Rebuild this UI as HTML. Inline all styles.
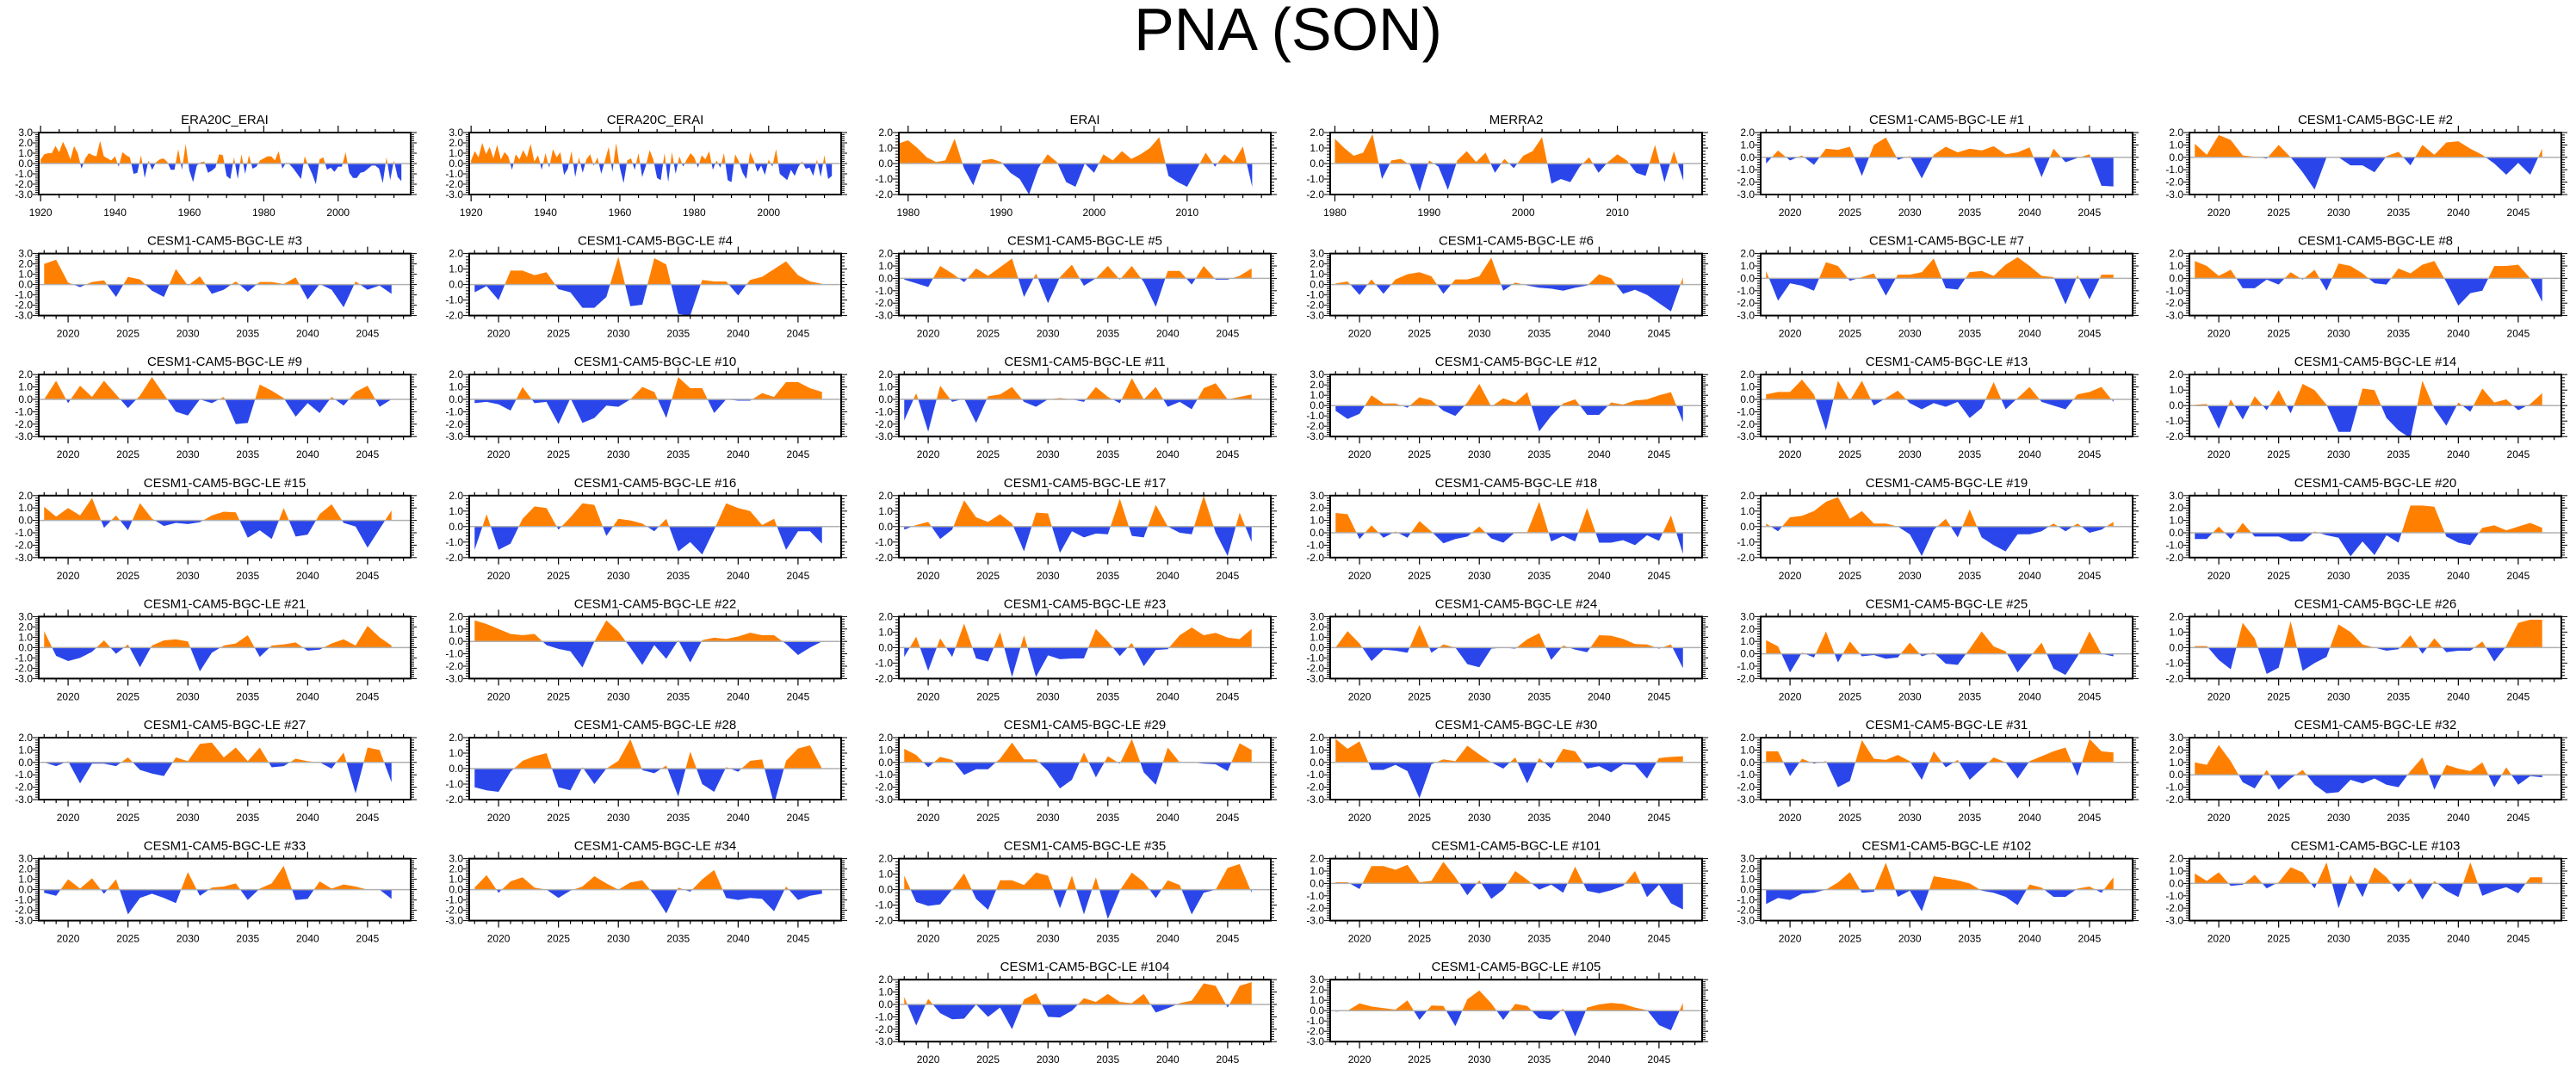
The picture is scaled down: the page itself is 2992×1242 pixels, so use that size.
<!DOCTYPE html>
<html><head><meta charset="utf-8"><style>
html,body{margin:0;padding:0;background:#fff;}
svg{display:block;font-family:"Liberation Sans",sans-serif;}
</style></head><body>
<svg id="chart" width="2992" height="1242" viewBox="0 0 2992 1242" xmlns="http://www.w3.org/2000/svg">
<rect width="2992" height="1242" fill="#fff"/>
<text x="1496" y="58" font-size="70" text-anchor="middle">PNA (SON)</text>
<g id="panels"></g>
</svg>
<script>
const cesmYears = [2018,2019,2020,2021,2022,2023,2024,2025,2026,2027,2028,2029,2030,2031,2032,2033,2034,2035,2036,2037,2038,2039,2040,2041,2042,2043,2044,2045,2046,2047];
const era20cStart = 1920;
const eraiStart = 1979;
const merra2Start = 1980;
const s_ERA20C = [0.4,0.9,1.0,1.0,1.7,1.1,2.1,1.4,0.4,1.7,1.0,-0.5,0.5,1.0,0.8,0.7,2.2,0.7,0.5,0.3,0.7,-0.3,1.1,0.8,0.6,-1.0,-0.9,0.8,-1.4,0.3,-0.6,0.1,0.4,0.5,0.2,-0.6,-0.6,1.4,-0.6,1.9,-0.7,-1.8,-0.2,0.1,0.2,-0.9,-0.7,-0.4,0.9,0.8,-1.2,-1.5,0.6,-1.5,0.9,-1.0,0.8,-0.5,-0.3,0.3,0.5,0.7,0.7,0.3,1.2,-0.5,0.1,-0.1,-0.5,-1.0,-1.5,0.7,-0.2,-1.0,-2.0,0.4,0.6,-0.6,-0.4,-0.8,-0.3,-0.3,1.1,-0.9,-1.4,-1.4,-0.9,-0.8,-0.5,-0.2,-0.2,-0.5,-1.9,0.6,-1.6,0.3,-1.3,-1.7];
const s_CERA20C = [0.3,1.2,0.6,2.0,0.9,1.6,0.5,1.8,0.4,1.1,0.7,-0.6,0.9,0.4,1.3,0.6,1.9,0.2,0.8,-0.6,1.0,-0.4,1.4,0.6,1.1,-1.1,-0.5,1.2,-1.3,0.6,-0.9,0.4,0.9,-0.2,0.6,-1.0,0.3,1.6,-0.8,2.0,-0.4,-1.9,0.3,0.5,-0.6,1.0,-1.3,-0.2,1.3,0.4,-1.4,-1.6,1.0,-1.8,1.1,-1.0,0.7,-0.3,0.4,1.0,0.6,-0.4,0.8,0.4,1.2,-0.6,0.3,-0.4,1.0,-1.6,-1.8,0.9,0.2,-0.9,-1.5,1.1,0.3,-0.8,-0.2,-1.1,0.4,-0.3,1.4,-1.0,-1.3,-1.6,-0.6,-1.2,-0.3,0.2,-0.5,-0.4,-1.2,0.4,-1.3,0.8,-1.5,-1.2];
const s_ERAI = [1.3,1.5,1.0,0.4,0.1,0.2,1.6,-0.3,-1.4,0.2,0.3,0.1,-0.6,-1.0,-2.0,-0.3,0.6,0.1,-1.2,-1.5,0.0,-0.6,0.6,0.2,0.8,0.3,0.6,1.0,1.7,-0.8,-1.2,-1.5,-0.4,0.7,-0.2,0.6,0.1,1.1,-1.5];
const s_MERRA2 = [1.6,1.0,0.5,0.7,1.9,-1.0,0.2,0.3,-0.1,-1.8,0.2,-0.2,-1.7,0.2,0.8,0.1,0.7,-0.6,0.3,-0.3,0.5,0.8,1.7,-1.3,-1.0,-1.2,-0.2,0.4,-0.6,0.1,0.6,0.2,-0.6,-0.8,1.2,-1.2,0.8,-1.1];
const s_1 = [-0.5,0.55,-0.25,0.15,-0.6,0.7,0.6,0.85,-1.5,1.0,1.6,-0.2,0.1,-1.7,0.2,0.85,0.4,0.7,0.55,0.9,0.25,0.4,0.8,-1.6,0.7,-0.4,-0.05,0.25,-2.3,-2.35];
const s_2 = [1.1,0.2,1.8,1.4,0.15,0.05,-0.1,1.0,0.0,-1.2,-2.6,0.0,0.0,-0.65,-0.65,-1.2,0.1,0.45,-0.65,1.0,0.2,1.2,1.3,0.7,0.2,-0.5,-1.4,-0.45,-1.4,0.7];
const s_3 = [2.0,2.4,0.2,-0.25,0.25,0.4,-1.2,0.75,0.5,-0.6,-1.2,1.5,-0.1,0.8,-0.9,-0.5,0.3,-0.7,0.25,0.25,0.05,0.7,-1.45,0.05,-0.5,-2.2,0.3,-0.5,-0.1,-0.9];
const s_4 = [-0.5,-0.1,-1.0,0.9,0.9,0.6,0.8,-0.3,-0.5,-1.5,-1.5,-0.8,1.8,-1.4,-1.3,1.7,1.3,-1.9,-2.0,0.3,0.2,0.2,-0.7,0.3,0.5,1.0,1.5,0.6,0.2,0.05];
const s_5 = [-0.1,-0.4,-0.7,1.0,0.4,-0.3,0.8,0.2,0.9,1.6,-1.5,0.4,-2.0,0.1,1.1,-0.6,0.0,1.0,-0.1,1.0,-0.3,-2.3,0.6,0.6,-0.5,1.0,-0.1,-0.1,0.2,0.8];
const s_6 = [0.1,0.3,-1.0,0.5,-0.9,0.5,1.0,1.2,0.8,-0.9,0.5,0.5,0.8,2.6,-0.6,0.2,-0.1,-0.3,-0.4,-0.6,-0.3,-0.1,1.0,0.6,-0.9,-0.5,-1.0,-1.8,-2.6,0.7];
const s_7 = [0.6,-1.8,-0.4,-0.6,-1.0,1.3,1.0,-0.2,0.1,0.4,-1.4,0.3,0.3,0.5,1.6,-0.8,-0.9,0.5,0.6,0.2,1.1,1.7,1.0,0.2,0.1,-2.1,0.25,-1.7,0.3,0.3];
const s_8 = [1.4,1.0,0.2,0.7,-0.8,-0.8,-0.1,-0.5,0.5,-0.1,0.7,-1.0,1.2,1.0,0.4,-0.4,-0.5,0.8,0.4,1.1,1.4,-0.3,-2.2,-1.2,-1.0,1.0,1.0,1.1,0.0,-1.9];
const s_9 = [0.0,1.5,-0.3,1.1,0.2,1.5,0.4,-0.7,0.3,1.8,0.4,-1.0,-1.3,0.0,-0.3,0.2,-2.0,-1.9,1.2,0.7,0.1,-1.4,-0.3,-1.1,0.2,-0.5,0.6,1.1,-0.6,0.0];
const s_10 = [-0.3,-0.2,-0.4,-0.9,1.0,-0.3,-0.2,-2.0,0.1,-1.9,-1.5,-0.5,-0.6,0.0,1.0,0.6,-1.5,1.8,0.9,0.9,-1.1,0.0,-0.1,-0.1,0.5,0.2,1.4,1.4,0.9,0.6];
const s_11 = [-1.7,0.5,-2.6,1.1,-0.2,0.05,-1.9,0.25,0.4,1.0,-0.2,-0.6,0.0,0.1,0.0,-0.2,1.0,0.2,-0.3,1.7,0.0,1.0,-0.6,-0.2,-0.8,0.9,1.3,0.0,0.2,0.4];
const s_12 = [-0.5,-1.3,-0.8,1.0,0.2,0.2,-0.2,0.8,0.5,-0.5,-1.0,0.3,2.1,-0.1,0.7,0.3,1.3,-2.5,-1.0,0.2,0.6,-0.9,-0.9,0.3,0.1,0.5,0.6,1.0,1.3,-1.6];
const s_13 = [0.4,0.6,0.6,1.6,0.4,-2.5,1.5,-0.1,1.5,-0.5,0.1,0.7,-0.3,-0.8,-0.3,-0.6,-0.2,-1.5,-0.7,1.4,-0.8,0.1,1.0,-0.2,-0.5,-0.8,0.4,0.6,1.0,-0.2];
const s_14 = [0.05,0.1,-1.5,0.4,-0.9,0.6,-0.3,1.0,-0.5,1.4,1.0,0.05,-1.7,-1.7,1.1,1.0,-0.8,-1.6,-2.1,1.6,-0.2,-1.3,0.2,-0.4,1.1,0.2,0.4,-0.3,0.1,0.8];
const s_15 = [1.1,0.3,1.0,0.4,1.8,-0.6,0.4,-0.8,1.4,0.15,-0.45,-0.2,-0.3,-0.15,0.4,0.7,0.65,-1.4,-0.8,-1.5,1.0,-1.3,-1.15,0.5,1.3,-0.2,-0.5,-2.2,-0.7,0.8];
const s_16 = [-1.5,0.8,-1.5,-1.1,0.5,1.3,1.2,-0.2,0.6,1.5,1.4,-0.6,0.5,0.4,0.2,-0.3,0.5,-1.6,-1.0,-1.8,-0.2,1.5,1.2,1.0,0.1,0.5,-1.5,-0.3,-0.3,-1.1];
const s_17 = [-0.2,0.1,0.3,-0.8,-0.2,1.7,0.6,0.3,0.8,0.2,-1.6,0.9,0.85,-1.7,-0.3,-0.7,-0.45,-0.5,1.8,-0.6,-0.7,1.4,0.0,-0.4,-0.5,2.0,-0.4,-1.9,0.9,-1.0];
const s_18 = [1.6,1.5,-0.5,0.6,-0.4,0.1,-0.4,0.95,0.1,-0.85,-0.5,-0.3,0.5,-0.45,-0.8,0.05,0.05,2.5,-0.7,-0.25,-0.7,2.0,-0.8,-0.8,-0.6,-1.0,-0.2,-0.65,1.4,-1.7];
const s_19 = [0.2,-0.3,0.6,0.7,1.0,1.6,1.9,0.5,1.0,0.2,0.2,0.0,-0.5,-1.9,-0.2,0.5,-0.7,1.1,-0.7,-1.2,-1.6,-0.5,-0.5,-0.3,0.2,-0.3,0.2,-0.4,-0.2,0.3];
const s_20 = [-0.5,-0.5,0.5,-0.5,0.8,-0.3,-0.3,-0.3,-0.7,-0.7,0.1,-0.2,-0.4,-1.9,-0.7,-1.8,-0.2,-0.8,2.2,2.2,2.1,-0.3,-0.8,-1.0,0.4,0.6,0.2,0.5,0.8,0.4];
const s_21 = [1.6,-0.8,-1.3,-1.0,-0.4,0.7,-0.6,0.3,-1.9,0.2,0.7,0.8,0.6,-2.3,-0.5,0.2,0.4,1.2,-0.9,0.2,0.3,0.5,-0.3,-0.2,0.4,0.8,0.2,2.1,1.0,0.2];
const s_22 = [1.7,1.4,1.0,0.6,0.5,0.6,-0.3,-0.6,-0.8,-2.1,0.0,1.7,0.8,-0.5,-1.9,-0.3,-1.4,0.1,-1.7,0.1,0.3,0.2,0.4,0.7,0.5,0.5,-0.2,-1.1,-0.5,0.0];
const s_23 = [-0.6,0.7,-1.5,0.6,-0.6,1.55,-0.7,-0.9,1.0,-1.9,0.8,-1.9,-0.5,-0.75,-0.7,-0.7,1.2,0.4,-0.55,0.3,-1.2,-0.15,-0.1,0.8,1.3,0.8,0.95,0.65,0.55,1.2];
const s_24 = [0.0,1.6,0.4,-1.3,-0.2,-0.3,-0.5,2.2,-0.5,0.3,0.0,-1.6,-1.9,-0.1,0.0,-0.1,0.8,1.4,-1.2,0.2,-0.2,-0.45,1.2,1.15,0.85,0.35,0.3,-0.1,0.3,-2.0];
const s_25 = [1.1,0.6,-1.5,0.1,-0.3,1.8,-0.7,1.0,-0.2,-0.1,-0.4,-0.3,0.9,-0.2,0.1,-0.8,-0.9,0.4,1.8,0.6,0.2,-1.5,-0.3,0.9,-1.2,-1.7,-0.2,1.8,0.0,-0.2];
const s_26 = [0.1,0.1,-0.8,-1.4,1.6,0.6,-1.7,-1.3,1.7,-1.5,-1.0,-0.6,1.5,1.0,0.2,0.0,-0.2,-0.1,0.8,-0.4,0.6,-0.3,-0.2,-0.2,0.4,-0.9,0.1,1.6,1.8,1.8];
const s_27 = [0.0,-0.3,0.1,-1.7,-0.1,-0.1,-0.3,0.4,-0.6,-0.9,-1.1,0.4,0.1,1.5,1.6,0.4,1.2,0.1,1.2,-0.4,-0.3,0.3,0.1,0.0,-0.5,0.8,-2.5,1.2,1.0,-1.6];
const s_28 = [-1.2,-1.4,-1.5,-0.2,0.5,0.8,1.0,-1.2,-1.4,0.1,-1.0,0.0,0.5,1.9,-0.1,-0.3,0.2,-1.8,1.1,-1.0,-1.5,0.1,-0.2,0.5,0.6,-2.3,0.5,1.3,1.5,0.0];
const s_29 = [1.1,0.6,-0.4,0.45,0.2,-1.0,-0.55,-0.55,0.3,1.6,0.25,0.25,-0.7,-2.1,-1.4,0.8,-1.2,0.5,-0.1,1.9,-0.8,-1.8,1.2,0.0,0.0,-0.1,-0.15,-0.7,1.55,1.0];
const s_30 = [1.9,1.1,1.7,-0.6,-0.6,-0.2,-0.7,-2.9,-0.15,0.25,0.1,1.35,0.65,0.0,-0.5,0.4,-1.7,0.35,-0.5,1.1,0.9,-0.5,-0.3,-0.8,-0.15,-0.2,-1.3,0.35,0.45,0.5];
const s_31 = [0.9,0.9,-1.1,0.3,-0.1,0.1,-2.0,-1.5,1.8,0.3,0.2,0.6,0.1,-1.4,0.9,-0.4,0.2,-1.4,-0.5,0.4,0.0,-1.3,0.1,0.5,0.9,1.2,-1.1,1.9,0.9,0.8];
const s_32 = [1.0,0.8,2.4,1.1,-0.6,-1.1,0.4,-1.2,-0.3,0.4,-0.8,-1.5,-1.4,-0.4,-0.7,-0.3,-0.8,-1.0,0.3,1.4,-1.2,0.8,0.5,0.3,1.0,-1.0,0.6,-0.8,-0.1,-0.2];
const s_33 = [-0.3,-0.6,1.0,0.1,1.1,-0.4,1.0,-2.4,-0.8,-0.4,-0.8,-1.3,1.7,-0.6,0.2,0.3,0.6,-1.0,0.1,0.6,2.3,-1.0,-0.9,0.8,0.1,0.5,0.3,0.0,0.0,-0.9];
const s_34 = [0.2,1.4,-0.3,0.8,1.2,0.2,0.0,-0.8,-0.1,0.3,1.3,0.6,0.0,0.7,0.9,-0.5,-2.3,0.2,-0.2,1.0,1.9,-0.8,-1.0,-0.8,-0.9,-2.1,0.3,-1.0,-0.6,-0.4];
const s_35 = [0.9,-0.8,-1.05,-0.95,0.0,1.05,-0.6,-1.3,0.6,0.6,0.3,1.1,0.9,-1.2,0.9,-1.6,0.8,-1.9,-0.05,1.1,0.5,-0.55,0.6,0.3,-1.6,-0.2,0.0,1.4,1.65,-0.2];
const s_101 = [0.1,0.1,-0.45,1.4,1.4,1.1,1.5,0.1,0.2,1.75,0.5,-0.95,0.25,-1.25,-0.5,1.0,0.3,-0.5,-0.1,-0.75,1.35,-0.6,-0.8,-0.55,-0.2,1.0,-1.1,-0.1,-1.6,-2.1];
const s_102 = [-1.4,-0.8,-1.0,-0.4,-0.3,0.0,0.7,1.7,-0.3,-0.2,2.6,-0.7,-0.1,-2.1,1.3,1.1,0.9,0.6,-0.1,-0.3,-0.7,-1.5,0.5,0.2,-0.7,-0.7,0.1,0.3,-0.3,1.2];
const s_103 = [0.8,0.2,0.9,-0.2,-0.1,0.7,-0.4,0.1,1.3,0.9,-0.4,1.7,-2.0,0.7,-1.1,1.3,0.5,-0.7,0.4,-1.3,0.2,-0.6,-1.1,1.7,-1.0,-0.6,-0.3,-0.8,0.5,0.5];
const s_104 = [0.6,-1.7,0.45,-0.7,-1.2,-1.15,0.0,-1.0,-0.25,-2.0,0.4,0.9,-1.0,-1.05,-0.5,0.5,0.2,0.85,0.2,0.1,0.85,-0.65,-0.3,0.1,0.3,1.7,1.5,-0.25,1.5,1.8];
const s_105 = [-0.1,0.0,0.7,0.4,0.25,0.1,1.0,-0.9,0.5,0.45,-1.5,1.1,1.95,0.7,-0.9,0.65,0.45,-0.75,-0.9,0.2,-2.5,0.3,0.6,0.75,0.65,0.3,0.05,-1.4,-1.9,0.75];

const panelTitles = ["ERA20C_ERAI","CERA20C_ERAI","ERAI","MERRA2","CESM1-CAM5-BGC-LE #1","CESM1-CAM5-BGC-LE #2","CESM1-CAM5-BGC-LE #3","CESM1-CAM5-BGC-LE #4","CESM1-CAM5-BGC-LE #5","CESM1-CAM5-BGC-LE #6","CESM1-CAM5-BGC-LE #7","CESM1-CAM5-BGC-LE #8","CESM1-CAM5-BGC-LE #9","CESM1-CAM5-BGC-LE #10","CESM1-CAM5-BGC-LE #11","CESM1-CAM5-BGC-LE #12","CESM1-CAM5-BGC-LE #13","CESM1-CAM5-BGC-LE #14","CESM1-CAM5-BGC-LE #15","CESM1-CAM5-BGC-LE #16","CESM1-CAM5-BGC-LE #17","CESM1-CAM5-BGC-LE #18","CESM1-CAM5-BGC-LE #19","CESM1-CAM5-BGC-LE #20","CESM1-CAM5-BGC-LE #21","CESM1-CAM5-BGC-LE #22","CESM1-CAM5-BGC-LE #23","CESM1-CAM5-BGC-LE #24","CESM1-CAM5-BGC-LE #25","CESM1-CAM5-BGC-LE #26","CESM1-CAM5-BGC-LE #27","CESM1-CAM5-BGC-LE #28","CESM1-CAM5-BGC-LE #29","CESM1-CAM5-BGC-LE #30","CESM1-CAM5-BGC-LE #31","CESM1-CAM5-BGC-LE #32","CESM1-CAM5-BGC-LE #33","CESM1-CAM5-BGC-LE #34","CESM1-CAM5-BGC-LE #35","CESM1-CAM5-BGC-LE #101","CESM1-CAM5-BGC-LE #102","CESM1-CAM5-BGC-LE #103","CESM1-CAM5-BGC-LE #104","CESM1-CAM5-BGC-LE #105"];
const yMins = [-3,-3,-2,-2,-3,-3, -3,-2,-3,-3,-3,-3, -3,-3,-3,-3,-3,-2, -3,-2,-2,-2,-2,-2, -3,-3,-2,-3,-2,-2, -3,-2,-3,-3,-3,-2, -3,-3,-2,-3,-3,-3, -3,-3];
const yMaxs = [3,3,2,2,2,2, 3,2,2,3,2,2, 2,2,2,3,2,2, 2,2,2,3,2,3, 3,2,2,3,3,2, 2,2,2,2,2,3, 3,3,2,2,3,2, 2,3];

const seriesList = [s_ERA20C,s_CERA20C,s_ERAI,s_MERRA2,s_1,s_2,s_3,s_4,s_5,s_6,s_7,s_8,s_9,s_10,s_11,s_12,s_13,s_14,s_15,s_16,s_17,s_18,s_19,s_20,s_21,s_22,s_23,s_24,s_25,s_26,s_27,s_28,s_29,s_30,s_31,s_32,s_33,s_34,s_35,s_101,s_102,s_103,s_104,s_105];

const NS = "http://www.w3.org/2000/svg";
const root = document.getElementById('panels');
function mk(tag, attrs, parent){ const e=document.createElementNS(NS,tag); for(const k in attrs) e.setAttribute(k,attrs[k]); (parent||root).appendChild(e); return e; }

const COLX = [45,545,1044,1545,2045,2543];
const BOXW = 432, BOXH = 72;

seriesList.forEach((vals, i) => {
  let row, col;
  if (i < 42) { row = Math.floor(i/6); col = i%6; } else { row = 7; col = i-40; }
  const x0 = COLX[col], y0 = 154 + row*140.6;
  let years, xmin, xmax, major, minor;
  if (i < 2) { years = vals.map((v,k)=>era20cStart+k); xmin=1919.5; xmax=2019.5; major=20; minor=5; }
  else if (i === 2) { years = vals.map((v,k)=>eraiStart+k); xmin=1979; xmax=2019; major=10; minor=2; }
  else if (i === 3) { years = vals.map((v,k)=>merra2Start+k); xmin=1979.5; xmax=2019; major=10; minor=2; }
  else { years = cesmYears; xmin=2017.55; xmax=2048.6; major=5; minor=1; }
  const ymin = yMins[i], ymax = yMaxs[i];
  const sx = v => x0 + (v-xmin)/(xmax-xmin)*BOXW;
  const sy = v => y0 + (ymax-v)/(ymax-ymin)*BOXH;
  const g = mk('g', {});
  
  
  const t = mk('text', {x: x0+BOXW/2, y: y0-10, 'font-size': 15, 'text-anchor':'middle'}, g);
  
  
  t.textContent = panelTitles[i];
  const zy = sy(0);
  let d = 'M' + sx(years[0]) + ',' + zy;
  vals.forEach((v,k)=>{ d += ' L' + sx(years[k]).toFixed(2) + ',' + sy(v).toFixed(2); });
  d += ' L' + sx(years[years.length-1]) + ',' + zy + ' Z';
  const cid = 'c' + i;
  const defs = mk('defs', {}, g);
  const cpA = mk('clipPath', {id: cid+'a'}, defs);
  mk('rect', {x:x0, y:y0, width:BOXW, height: zy-y0}, cpA);
  const cpB = mk('clipPath', {id: cid+'b'}, defs);
  mk('rect', {x:x0, y:zy, width:BOXW, height: y0+BOXH-zy}, cpB);
  const pa = mk('path', {d:d, fill:'#ff8000', 'clip-path':'url(#'+cid+'a)'}, g);
  
  
  const pb = mk('path', {d:d, fill:'#2a46ea', 'clip-path':'url(#'+cid+'b)'}, g);
  
  
  const zl = mk('line', {x1:x0, x2:x0+BOXW, y1:zy, y2:zy, stroke:'#b0b0b0', 'stroke-width':1.5}, g);
  
  
  const box = mk('rect', {x:x0, y:y0, width:BOXW, height:BOXH, fill:'none', stroke:'#000', 'stroke-width':2}, g);
  
  
  const first = Math.ceil(xmin/minor)*minor;
  for (let yr = first; yr <= xmax; yr += minor) {
    const X = sx(yr); const isMaj = (yr % major === 0); const L = isMaj ? 8 : 4;
    mk('line', {x1:X, x2:X, y1:y0+BOXH, y2:y0+BOXH+L, stroke:'#000', 'stroke-width':1.2}, g);
    mk('line', {x1:X, x2:X, y1:y0, y2:y0-L, stroke:'#000', 'stroke-width':1.2}, g);
    if (isMaj) {
      const tl = mk('text', {x:X, y:y0+BOXH+25, 'font-size':12, 'text-anchor':'middle'}, g);
      
      
      tl.textContent = yr;
    }
  }
  for (let k = Math.round(ymin*5); k <= Math.round(ymax*5); k++) {
    const v = k/5; const Y = sy(v); const isMaj = (k % 5 === 0); const L = isMaj ? 7 : 4;
    mk('line', {x1:x0, x2:x0-L, y1:Y, y2:Y, stroke:'#000', 'stroke-width':1}, g);
    mk('line', {x1:x0+BOXW, x2:x0+BOXW+L, y1:Y, y2:Y, stroke:'#000', 'stroke-width':1}, g);
    if (isMaj) {
      const yl = mk('text', {x:x0-7, y:Y+4, 'font-size':12, 'text-anchor':'end'}, g);
      
      
      yl.textContent = v.toFixed(1);
    }
  }
});
</script>
</body></html>
